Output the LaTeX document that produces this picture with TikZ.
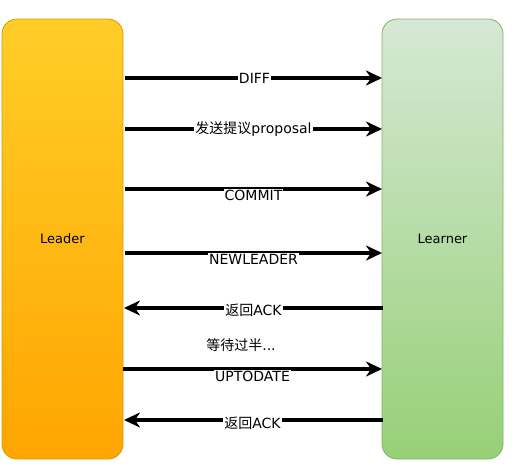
\documentclass[tikz,border=0pt]{standalone}
\usepackage{fontspec}
\setmainfont{DejaVu Sans}
\newfontfamily\cjk{Noto Sans CJK SC}
\usetikzlibrary{arrows.meta}

\definecolor{leadertop}{HTML}{FFCD28}
\definecolor{leaderbot}{HTML}{FFA500}
\definecolor{leaderline}{HTML}{D79B00}
\definecolor{learnertop}{HTML}{D5E8D4}
\definecolor{learnerbot}{HTML}{97D077}
\definecolor{learnerline}{HTML}{82B366}

\begin{document}
\begin{tikzpicture}[x=1pt,y=-1pt,
            msg/.style={-{Stealth[length=16pt,width=15pt,inset=5pt]},line width=3.5pt},
            box node/.style={draw,line width=0.8pt,rounded corners=15pt,
              minimum width=121pt,minimum height=440pt,font=\fontsize{13}{15}\selectfont},
            lbl/.style={fill=white,inner sep=1pt,font=\fontsize{14}{16}\selectfont}]

        \useasboundingbox (0,0) rectangle (516,472);

        % Define vertices
        \node[box node,top color=leadertop,bottom color=leaderbot,draw=leaderline] (leader) at (62.5,239) {Leader};
        \node[box node,top color=learnertop,bottom color=learnerbot,draw=learnerline] (learner) at (442.5,239) {Learner};

        % end points of the messages
        \coordinate (l1) at (125,78);  \coordinate (r1) at (382,78);
        \coordinate (l2) at (125,129); \coordinate (r2) at (382,129);
        \coordinate (l3) at (125,189); \coordinate (r3) at (382,189);
        \coordinate (l4) at (125,253); \coordinate (r4) at (382,253);
        \coordinate (l5) at (124,308); \coordinate (r5) at (383,308);
        \coordinate (l6) at (123,369); \coordinate (r6) at (382,369);
        \coordinate (l7) at (124,420); \coordinate (r7) at (383,420);

        % Draw edges
        \path[msg]
            (l1) edge node[lbl,xshift=1pt] {DIFF} (r1)
            (l2) edge node[lbl] {{\cjk 发送提议}proposal} (r2)
            (l3) edge node[lbl,yshift=-6pt] {COMMIT} (r3)
            (l4) edge node[lbl,yshift=-6pt] {NEWLEADER} (r4)
            (r5) edge node[lbl,yshift=-2pt] {{\cjk 返回}ACK} (l5)
            (l6) edge node[lbl,yshift=-7pt] {UPTODATE} (r6)
            (r7) edge node[lbl,yshift=-3pt,xshift=-1pt] {{\cjk 返回}ACK} (l7);

        \node[lbl,fill=none] (wait) at (241,345) {{\cjk 等待过半}...};

        \end{tikzpicture}
\end{document}
